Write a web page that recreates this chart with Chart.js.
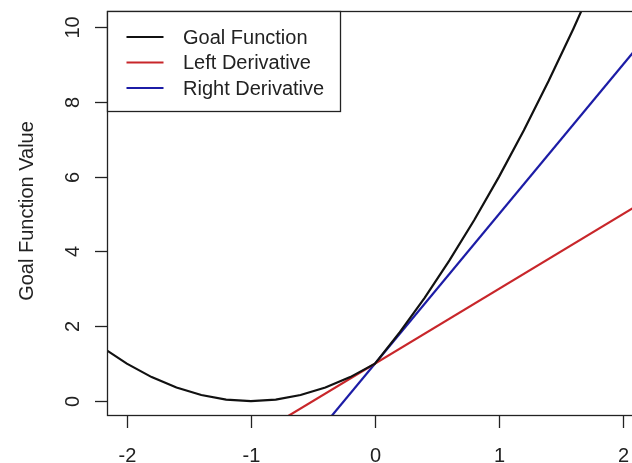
<!DOCTYPE html>
<html>
<head>
<meta charset="utf-8">
<script src="https://cdn.jsdelivr.net/npm/chart.js@4/dist/chart.umd.min.js"></script>
<style>
html,body{margin:0;padding:0;background:#fff;overflow:hidden;width:632px;height:463px;}
canvas{display:block;}
</style>
</head>
<body>
<canvas id="c" width="660" height="463"></canvas>
<script>
// ---- data ----
const goalX = [-2.2,-2.0,-1.8,-1.6,-1.4,-1.2,-1.0,-0.8,-0.6,-0.4,-0.2,0.0,0.2,0.4,0.6,0.8,1.0,1.2,1.4,1.6,1.8];
const goalY = [1.44,1.00,0.64,0.36,0.16,0.04,0.00,0.04,0.16,0.36,0.64,1.00,1.84,2.76,3.76,4.84,6.00,7.24,8.56,9.96,11.44];
const leftDerivX = [-2.5, 2.5];
const leftDerivY = [-4.0, 6.0];
const rightDerivX = [-2.5, 2.5];
const rightDerivY = [-9.0, 11.0];
const xTicks = [-2, -1, 0, 1, 2];
const yTicks = [0, 2, 4, 6, 8, 10];
const seriesNames = ["Goal Function", "Left Derivative", "Right Derivative"];
const yTitle = "Goal Function Value";

const toXY = (xs, ys) => xs.map((x, i) => ({x: x, y: ys[i]}));

const FONT = '20px "Liberation Sans", Arial, sans-serif';
const TXT = '#222';

const axesPlugin = {
  id: 'rAxes',
  afterDraw(chart) {
    const ctx = chart.ctx;
    const a = chart.chartArea;
    const xs = chart.scales.x, ys = chart.scales.y;
    ctx.save();
    ctx.strokeStyle = '#222';
    ctx.lineWidth = 1.3;
    // frame
    ctx.strokeRect(Math.round(a.left) + 0.5, Math.round(a.top) - 0.5, Math.round(a.right - a.left), Math.round(a.bottom - a.top));
    // x ticks
    ctx.fillStyle = TXT;
    ctx.font = FONT;
    ctx.textAlign = 'center';
    ctx.textBaseline = 'alphabetic';
    xTicks.forEach(v => {
      const px = Math.round(xs.getPixelForValue(v)) + 0.5;
      ctx.beginPath();
      ctx.moveTo(px, a.bottom);
      ctx.lineTo(px, a.bottom + 12);
      ctx.stroke();
      ctx.fillText(String(v).replace('-', '-'), px, a.bottom + 46);
    });
    // y ticks
    yTicks.forEach(v => {
      const py = Math.round(ys.getPixelForValue(v)) + 0.5;
      ctx.beginPath();
      ctx.moveTo(a.left - 12, py);
      ctx.lineTo(a.left, py);
      ctx.stroke();
      ctx.save();
      ctx.translate(a.left - 28.5, py);
      ctx.rotate(-Math.PI / 2);
      ctx.fillText(String(v), 0, 0);
      ctx.restore();
    });
    // y title
    ctx.save();
    ctx.translate(33, (a.top + a.bottom) / 2 - 3);
    ctx.rotate(-Math.PI / 2);
    ctx.fillText(yTitle, 0, 0);
    ctx.restore();

    // legend
    const L = 107.5, T = 11.5, R = 340.5, B = 111.5;
    ctx.fillStyle = '#fff';
    ctx.fillRect(L, T, R - L, B - T);
    ctx.lineWidth = 1.3;
    ctx.strokeStyle = '#222';
    ctx.strokeRect(L, T, R - L, B - T);
    ctx.textAlign = 'left';
    ctx.textBaseline = 'middle';
    chart.data.datasets.forEach((ds, i) => {
      const cy = 37 + i * 25.5;
      ctx.strokeStyle = ds.borderColor;
      ctx.lineWidth = 2.2;
      ctx.beginPath();
      ctx.moveTo(126.5, cy);
      ctx.lineTo(163.5, cy);
      ctx.stroke();
      ctx.fillStyle = TXT;
      ctx.fillText(ds.label, 183, cy + 1);
    });
    ctx.restore();
  }
};

new Chart(document.getElementById('c'), {
  type: 'scatter',
  data: {
    datasets: [
      {label: seriesNames[0], data: toXY(goalX, goalY), showLine: true, borderColor: '#111111', borderWidth: 2.2, pointRadius: 0, tension: 0},
      {label: seriesNames[1], data: toXY(leftDerivX, leftDerivY), showLine: true, borderColor: '#c8262a', borderWidth: 2.2, pointRadius: 0, tension: 0},
      {label: seriesNames[2], data: toXY(rightDerivX, rightDerivY), showLine: true, borderColor: '#1c1ca6', borderWidth: 2.2, pointRadius: 0, tension: 0}
    ]
  },
  options: {
    responsive: false,
    animation: false,
    devicePixelRatio: 1,
    layout: {padding: {left: 107, top: 12, right: 17, bottom: 47}},
    plugins: {legend: {display: false}, tooltip: {enabled: false}},
    scales: {
      x: {type: 'linear', min: -2.16, max: 2.16, display: false},
      y: {type: 'linear', min: -0.4, max: 10.4, display: false}
    }
  },
  plugins: [axesPlugin]
});
</script>
</body>
</html>
